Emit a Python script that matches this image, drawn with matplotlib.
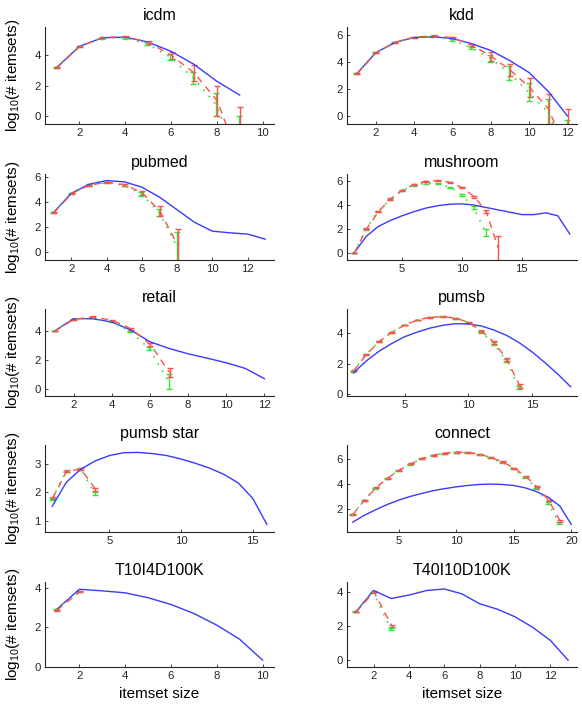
import matplotlib
matplotlib.use("Agg")
import numpy as np
import matplotlib.pyplot as plt
from matplotlib.ticker import MultipleLocator

plt.rcParams["font.family"] = ["Liberation Sans", "DejaVu Sans"]
plt.rcParams["mathtext.default"] = "regular"

# データ: 真値(青), 推定A(赤), 推定B(緑) と誤差
icdm_true = [3.16, 4.54, 5.10, 5.14, 4.82, 4.22, 3.38, 2.28, 1.38]
icdm_red = [3.16, 4.54, 5.12, 5.18, 4.80, 3.95, 2.80, 1.00, -3.0]
icdm_red_err = [0.03, 0.03, 0.04, 0.05, 0.10, 0.25, 0.50, 1.00, 3.6]
icdm_green = [3.16, 4.54, 5.08, 5.10, 4.70, 3.85, 2.50, 0.77, -3.0]
icdm_green_err = [0.03, 0.03, 0.04, 0.05, 0.10, 0.20, 0.40, 0.77, 3.0]

kdd_true = [3.12, 4.69, 5.45, 5.82, 5.87, 5.75, 5.36, 4.86, 4.10, 3.22, 1.82, 0.0]
kdd_red = [3.12, 4.69, 5.47, 5.85, 5.95, 5.80, 5.25, 4.42, 3.38, 2.12, 0.50, -3.0]
kdd_red_err = [0.03, 0.03, 0.03, 0.04, 0.05, 0.06, 0.12, 0.32, 0.45, 0.68, 1.10, 3.5]
kdd_green = [3.12, 4.69, 5.45, 5.85, 5.90, 5.65, 5.07, 4.28, 3.18, 1.77, 0.30, -3.0]
kdd_green_err = [0.03, 0.03, 0.03, 0.04, 0.05, 0.06, 0.12, 0.27, 0.52, 0.68, 0.95, 2.7]

pubmed_true = [3.18, 4.68, 5.39, 5.68, 5.58, 5.16, 4.37, 3.37, 2.37, 1.68, 1.55, 1.45, 1.05]
pubmed_red = [3.18, 4.65, 5.32, 5.55, 5.35, 4.70, 3.26, 0.60]
pubmed_red_err = [0.03, 0.04, 0.05, 0.05, 0.08, 0.18, 0.42, 1.25]
pubmed_green = [3.18, 4.62, 5.28, 5.52, 5.30, 4.63, 3.15, 0.50]
pubmed_green_err = [0.03, 0.04, 0.05, 0.05, 0.08, 0.17, 0.30, 1.10]

mushroom_true = [0.0, 1.37, 2.2, 2.7, 3.1, 3.45, 3.75, 3.95, 4.07, 4.1, 4.0, 3.8,
                 3.6, 3.4, 3.2, 3.2, 3.35, 3.1, 1.57]
mushroom_red = [0.0, 2.0, 3.45, 4.5, 5.25, 5.75, 6.0, 6.05, 5.9, 5.45, 4.7, 3.45, 0.4]
mushroom_red_err = [0.02, 0.04, 0.05, 0.05, 0.05, 0.05, 0.05, 0.05, 0.05, 0.06, 0.08, 0.12, 1.0]
mushroom_green = [0.0, 1.95, 3.45, 4.45, 5.2, 5.65, 5.85, 5.8, 5.5, 4.85, 3.8, 1.7]
mushroom_green_err = [0.02, 0.04, 0.05, 0.05, 0.05, 0.05, 0.05, 0.05, 0.05, 0.06, 0.1, 0.3]

retail_true = [3.98, 4.83, 4.83, 4.60, 4.05, 3.24, 2.78, 2.41, 2.11, 1.79, 1.40, 0.69]
retail_red = [3.98, 4.80, 4.95, 4.72, 4.12, 3.05, 1.12]
retail_red_err = [0.03, 0.03, 0.04, 0.05, 0.06, 0.10, 0.28]
retail_green = [3.98, 4.78, 4.90, 4.62, 3.95, 2.75, 0.50]
retail_green_err = [0.03, 0.03, 0.04, 0.05, 0.06, 0.10, 0.50]

pumsb_true = [1.41, 2.19, 2.83, 3.34, 3.78, 4.09, 4.35, 4.53, 4.64, 4.62, 4.49, 4.22,
              3.87, 3.38, 2.78, 2.08, 1.33, 0.51]
pumsb_red = [1.55, 2.63, 3.47, 4.09, 4.55, 4.88, 5.06, 5.10, 4.99, 4.73, 4.15, 3.40, 2.28, 0.55]
pumsb_red_err = [0.03, 0.03, 0.03, 0.03, 0.03, 0.03, 0.03, 0.03, 0.04, 0.05, 0.06, 0.08, 0.10, 0.12]
pumsb_green = [1.50, 2.60, 3.45, 4.07, 4.55, 4.88, 5.05, 5.10, 5.00, 4.72, 4.12, 3.35, 2.20, 0.45]
pumsb_green_err = [0.03, 0.03, 0.03, 0.03, 0.03, 0.03, 0.03, 0.03, 0.04, 0.05, 0.06, 0.08, 0.10, 0.12]

pumsbstar_true = [1.5, 2.35, 2.8, 3.09, 3.28, 3.38, 3.39, 3.35, 3.28, 3.16, 3.01, 2.84,
                  2.62, 2.32, 1.79, 0.87]
pumsbstar_red = [1.78, 2.74, 2.80, 2.10]
pumsbstar_red_err = [0.03, 0.03, 0.04, 0.06]
pumsbstar_green = [1.75, 2.72, 2.82, 1.95]
pumsbstar_green_err = [0.03, 0.03, 0.04, 0.06]

connect_true = [0.98, 1.52, 1.97, 2.38, 2.73, 3.02, 3.26, 3.48, 3.64, 3.78, 3.89, 3.97,
                4.0, 3.97, 3.89, 3.7, 3.4, 2.95, 2.27, 0.8]
connect_red = [1.6, 2.73, 3.7, 4.47, 5.09, 5.6, 6.03, 6.3, 6.46, 6.54, 6.51, 6.38, 6.1,
               5.76, 5.27, 4.63, 3.77, 2.73, 1.09]
connect_red_err = [0.04] * 18 + [0.08]
connect_green = [1.55, 2.7, 3.68, 4.45, 5.07, 5.58, 6.01, 6.28, 6.44, 6.52, 6.49, 6.35,
                 6.07, 5.72, 5.2, 4.55, 3.68, 2.5, 0.9]
connect_green_err = [0.04] * 18 + [0.08]

t10_true = [2.90, 3.93, 3.85, 3.75, 3.50, 3.16, 2.70, 2.11, 1.39, 0.33]
t10_red = [2.87, 3.80]
t10_red_err = [0.02, 0.02]
t10_green = [2.90, 3.82]
t10_green_err = [0.02, 0.02]

t40_true = [2.84, 4.10, 3.63, 3.83, 4.10, 4.19, 3.90, 3.32, 3.00, 2.55, 1.93, 1.16, 0.0]
t40_red = [2.84, 4.02, 2.03]
t40_red_err = [0.02, 0.03, 0.05]
t40_green = [2.88, 4.00, 1.84]
t40_green_err = [0.02, 0.03, 0.05]

titles = ["icdm", "kdd", "pubmed", "mushroom", "retail", "pumsb",
          "pumsb star", "connect", "T10I4D100K", "T40I10D100K"]

panels = [
    (icdm_true, icdm_red, icdm_red_err, icdm_green, icdm_green_err),
    (kdd_true, kdd_red, kdd_red_err, kdd_green, kdd_green_err),
    (pubmed_true, pubmed_red, pubmed_red_err, pubmed_green, pubmed_green_err),
    (mushroom_true, mushroom_red, mushroom_red_err, mushroom_green, mushroom_green_err),
    (retail_true, retail_red, retail_red_err, retail_green, retail_green_err),
    (pumsb_true, pumsb_red, pumsb_red_err, pumsb_green, pumsb_green_err),
    (pumsbstar_true, pumsbstar_red, pumsbstar_red_err, pumsbstar_green, pumsbstar_green_err),
    (connect_true, connect_red, connect_red_err, connect_green, connect_green_err),
    (t10_true, t10_red, t10_red_err, t10_green, t10_green_err),
    (t40_true, t40_red, t40_red_err, t40_green, t40_green_err),
]

# 軸範囲と目盛り間隔
xlims = [(0.5, 10.5), (0.5, 12.5), (0.5, 13.5), (0.4, 19.6), (0.5, 12.5),
         (0.5, 18.5), (0.5, 16.5), (0.5, 20.5), (0.5, 10.5), (0.5, 13.5)]
ylims = [(-0.5, 5.8), (-0.6, 6.6), (-0.6, 6.2), (-0.6, 6.6), (-0.5, 5.5),
         (-0.1, 5.6), (0.6, 3.65), (0.2, 7.1), (-0.02, 4.3), (-0.4, 4.6)]
xsteps = [2, 2, 2, 5, 2, 5, 5, 5, 2, 2]
ysteps = [2, 2, 2, 2, 2, 2, 1, 2, 2, 2]

W, H = 582, 706
col_x = [(45, 274), (347, 577)]
row_y = [(27, 124), (174, 260), (309, 396), (445, 532), (582, 667)]

blue = "#3a3aff"
red = "#ff5050"
green = "#38e038"
dark = "#262626"

fig = plt.figure(figsize=(W / 100, H / 100), dpi=100)

for i, (true, rm, re, gm, ge) in enumerate(panels):
    r, c = divmod(i, 2)
    x0, x1 = col_x[c]
    y0, y1 = row_y[r]
    ax = fig.add_axes([x0 / W, 1 - y1 / H, (x1 - x0) / W, (y1 - y0) / H])

    xg = np.arange(1, len(gm) + 1) - 0.025
    xr = np.arange(1, len(rm) + 1) + 0.025
    xt = np.arange(1, len(true) + 1)
    ax.errorbar(xg, gm, yerr=ge, color=green, linestyle=(0, (1, 4)), lw=1.2,
                elinewidth=1.0, capsize=2.5, capthick=1.0)
    ax.errorbar(xr, rm, yerr=re, color=red, linestyle=(0, (5, 4)), lw=1.0,
                elinewidth=1.0, capsize=2.5, capthick=1.0)
    ax.plot(xt, true, color=blue, lw=1.0)

    ax.set_xlim(*xlims[i])
    ax.set_ylim(*ylims[i])
    ax.xaxis.set_major_locator(MultipleLocator(xsteps[i]))
    ax.yaxis.set_major_locator(MultipleLocator(ysteps[i]))
    ax.set_title(titles[i], fontsize=11.5, pad=5, color="black")

    for s in ["top", "right"]:
        ax.spines[s].set_visible(False)
    for s in ["left", "bottom"]:
        ax.spines[s].set_color(dark)
        ax.spines[s].set_linewidth(0.8)
    ax.tick_params(direction="in", length=2.5, width=0.6, labelsize=8.2,
                   colors=dark, pad=3)

    if c == 0:
        ax.set_ylabel("log$_{10}$(# itemsets)", fontsize=11, labelpad=9)
    if r == 4:
        ax.set_xlabel("itemset size", fontsize=11, labelpad=4)

fig.savefig("out.png", dpi=100)
